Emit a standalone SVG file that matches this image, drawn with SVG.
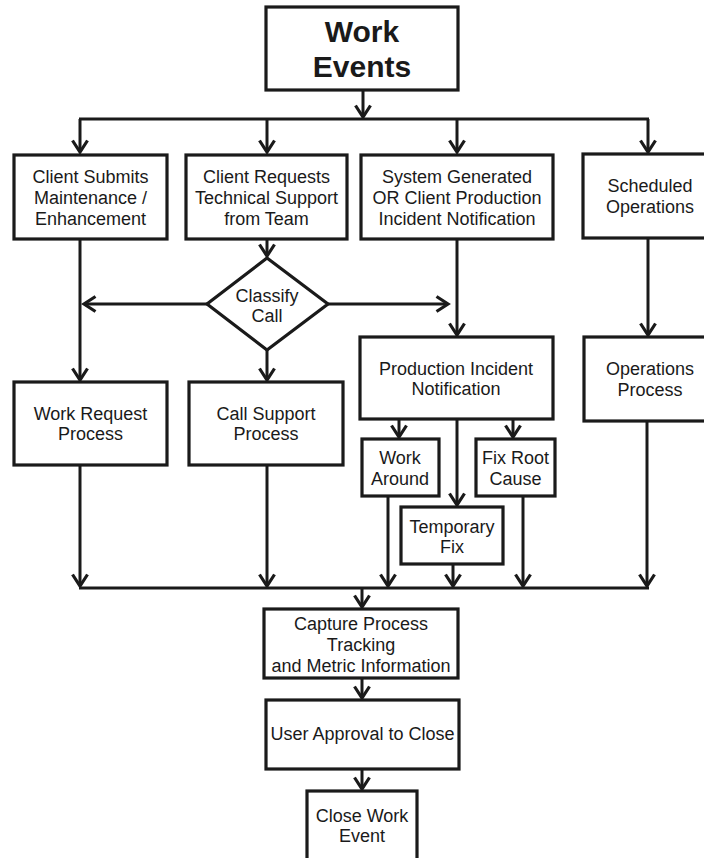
<svg xmlns="http://www.w3.org/2000/svg" width="704" height="858" viewBox="0 0 704 858">
<style>
.box{fill:#fff;stroke:#1a1a1a;stroke-width:3.2}
.t{font-family:"Liberation Sans",Arial,sans-serif;font-size:18px;fill:#1a1a1a;text-anchor:middle}
.tb{font-family:"Liberation Sans",Arial,sans-serif;font-size:30px;font-weight:bold;fill:#1a1a1a;text-anchor:middle}
.c{fill:none;stroke:#1a1a1a;stroke-width:3}
.a{fill:none;stroke:#1a1a1a;stroke-width:3;marker-end:url(#ah)}
</style>
<defs>
<marker id="ah" markerUnits="userSpaceOnUse" markerWidth="24" markerHeight="24" viewBox="-16 -12 20 24" refX="0" refY="0" orient="auto">
<path d="M-11.5,-7.5 L0,0 L-11.5,7.5" fill="none" stroke="#1a1a1a" stroke-width="3.2"/>
</marker>
</defs>
<rect width="704" height="858" fill="#fff"/>
<g id="connectors">
<path class="a" d="M363,90 V117"/>
<path class="c" d="M79,119 H649"/>
<path class="a" d="M80,119 V152"/>
<path class="a" d="M267,119 V152"/>
<path class="a" d="M457,119 V152"/>
<path class="a" d="M648,119 V152"/>
<path class="a" d="M80,239 V380"/>
<path class="a" d="M267,239 V256"/>
<path class="a" d="M207,304 H84"/>
<path class="a" d="M328,304 H448"/>
<path class="a" d="M267,350 V380"/>
<path class="a" d="M457,239 V335"/>
<path class="a" d="M648,238 V335"/>
<path class="a" d="M399,419 V437"/>
<path class="a" d="M457,419 V505"/>
<path class="a" d="M513,419 V437"/>
<path class="a" d="M80,465 V586"/>
<path class="a" d="M267,465 V586"/>
<path class="a" d="M388,496 V586"/>
<path class="a" d="M453,564 V586"/>
<path class="a" d="M523,496 V586"/>
<path class="a" d="M647,421 V586"/>
<path class="c" d="M79,588 H649"/>
<path class="a" d="M362,588 V607"/>
<path class="a" d="M362,678 V698"/>
<path class="a" d="M362,769 V789"/>
</g>
<g id="work-events">
<rect class="box" x="266" y="7" width="192" height="83"/>
<text class="tb" x="362" y="42">Work</text>
<text class="tb" x="362" y="77">Events</text>
</g>
<g id="client-submits">
<rect class="box" x="14" y="155" width="153" height="84"/>
<text class="t" x="90.5" y="183">Client Submits</text>
<text class="t" x="90.5" y="204">Maintenance /</text>
<text class="t" x="90.5" y="225">Enhancement</text>
</g>
<g id="client-requests">
<rect class="box" x="186" y="155" width="161" height="84"/>
<text class="t" x="266.5" y="183">Client Requests</text>
<text class="t" x="266.5" y="204">Technical Support</text>
<text class="t" x="266.5" y="225">from Team</text>
</g>
<g id="system-generated">
<rect class="box" x="361" y="155" width="192" height="84"/>
<text class="t" x="457" y="183">System Generated</text>
<text class="t" x="457" y="204">OR Client Production</text>
<text class="t" x="457" y="225">Incident Notification</text>
</g>
<g id="scheduled-operations">
<rect class="box" x="583" y="154" width="134" height="84"/>
<text class="t" x="650" y="192">Scheduled</text>
<text class="t" x="650" y="213">Operations</text>
</g>
<g id="classify-call">
<polygon class="box" points="267,258 328,304 267,350 207,304"/>
<text class="t" x="267" y="302">Classify</text>
<text class="t" x="267" y="322">Call</text>
</g>
<g id="work-request">
<rect class="box" x="14" y="382" width="153" height="83"/>
<text class="t" x="90.5" y="420">Work Request</text>
<text class="t" x="90.5" y="440">Process</text>
</g>
<g id="call-support">
<rect class="box" x="189" y="382" width="154" height="83"/>
<text class="t" x="266" y="420">Call Support</text>
<text class="t" x="266" y="440">Process</text>
</g>
<g id="production-incident">
<rect class="box" x="360" y="337" width="193" height="82"/>
<text class="t" x="456" y="375">Production Incident</text>
<text class="t" x="456" y="395">Notification</text>
</g>
<g id="operations-process">
<rect class="box" x="584" y="337" width="133" height="84"/>
<text class="t" x="650" y="375">Operations</text>
<text class="t" x="650" y="396">Process</text>
</g>
<g id="work-around">
<rect class="box" x="362" y="439" width="77" height="57"/>
<text class="t" x="400" y="464">Work</text>
<text class="t" x="400" y="485">Around</text>
</g>
<g id="fix-root-cause">
<rect class="box" x="476" y="439" width="79" height="57"/>
<text class="t" x="515.5" y="464">Fix Root</text>
<text class="t" x="515.5" y="485">Cause</text>
</g>
<g id="temporary-fix">
<rect class="box" x="401" y="507" width="102" height="57"/>
<text class="t" x="452" y="533">Temporary</text>
<text class="t" x="452" y="553">Fix</text>
</g>
<g id="capture-process">
<rect class="box" x="264" y="609" width="194" height="69"/>
<text class="t" x="361" y="630">Capture Process</text>
<text class="t" x="361" y="651">Tracking</text>
<text class="t" x="361" y="672">and Metric Information</text>
</g>
<g id="user-approval">
<rect class="box" x="266" y="700" width="193" height="69"/>
<text class="t" x="362.5" y="740">User Approval to Close</text>
</g>
<g id="close-work-event">
<rect class="box" x="307" y="791" width="110" height="80"/>
<text class="t" x="362" y="822">Close Work</text>
<text class="t" x="362" y="842">Event</text>
</g>
</svg>
